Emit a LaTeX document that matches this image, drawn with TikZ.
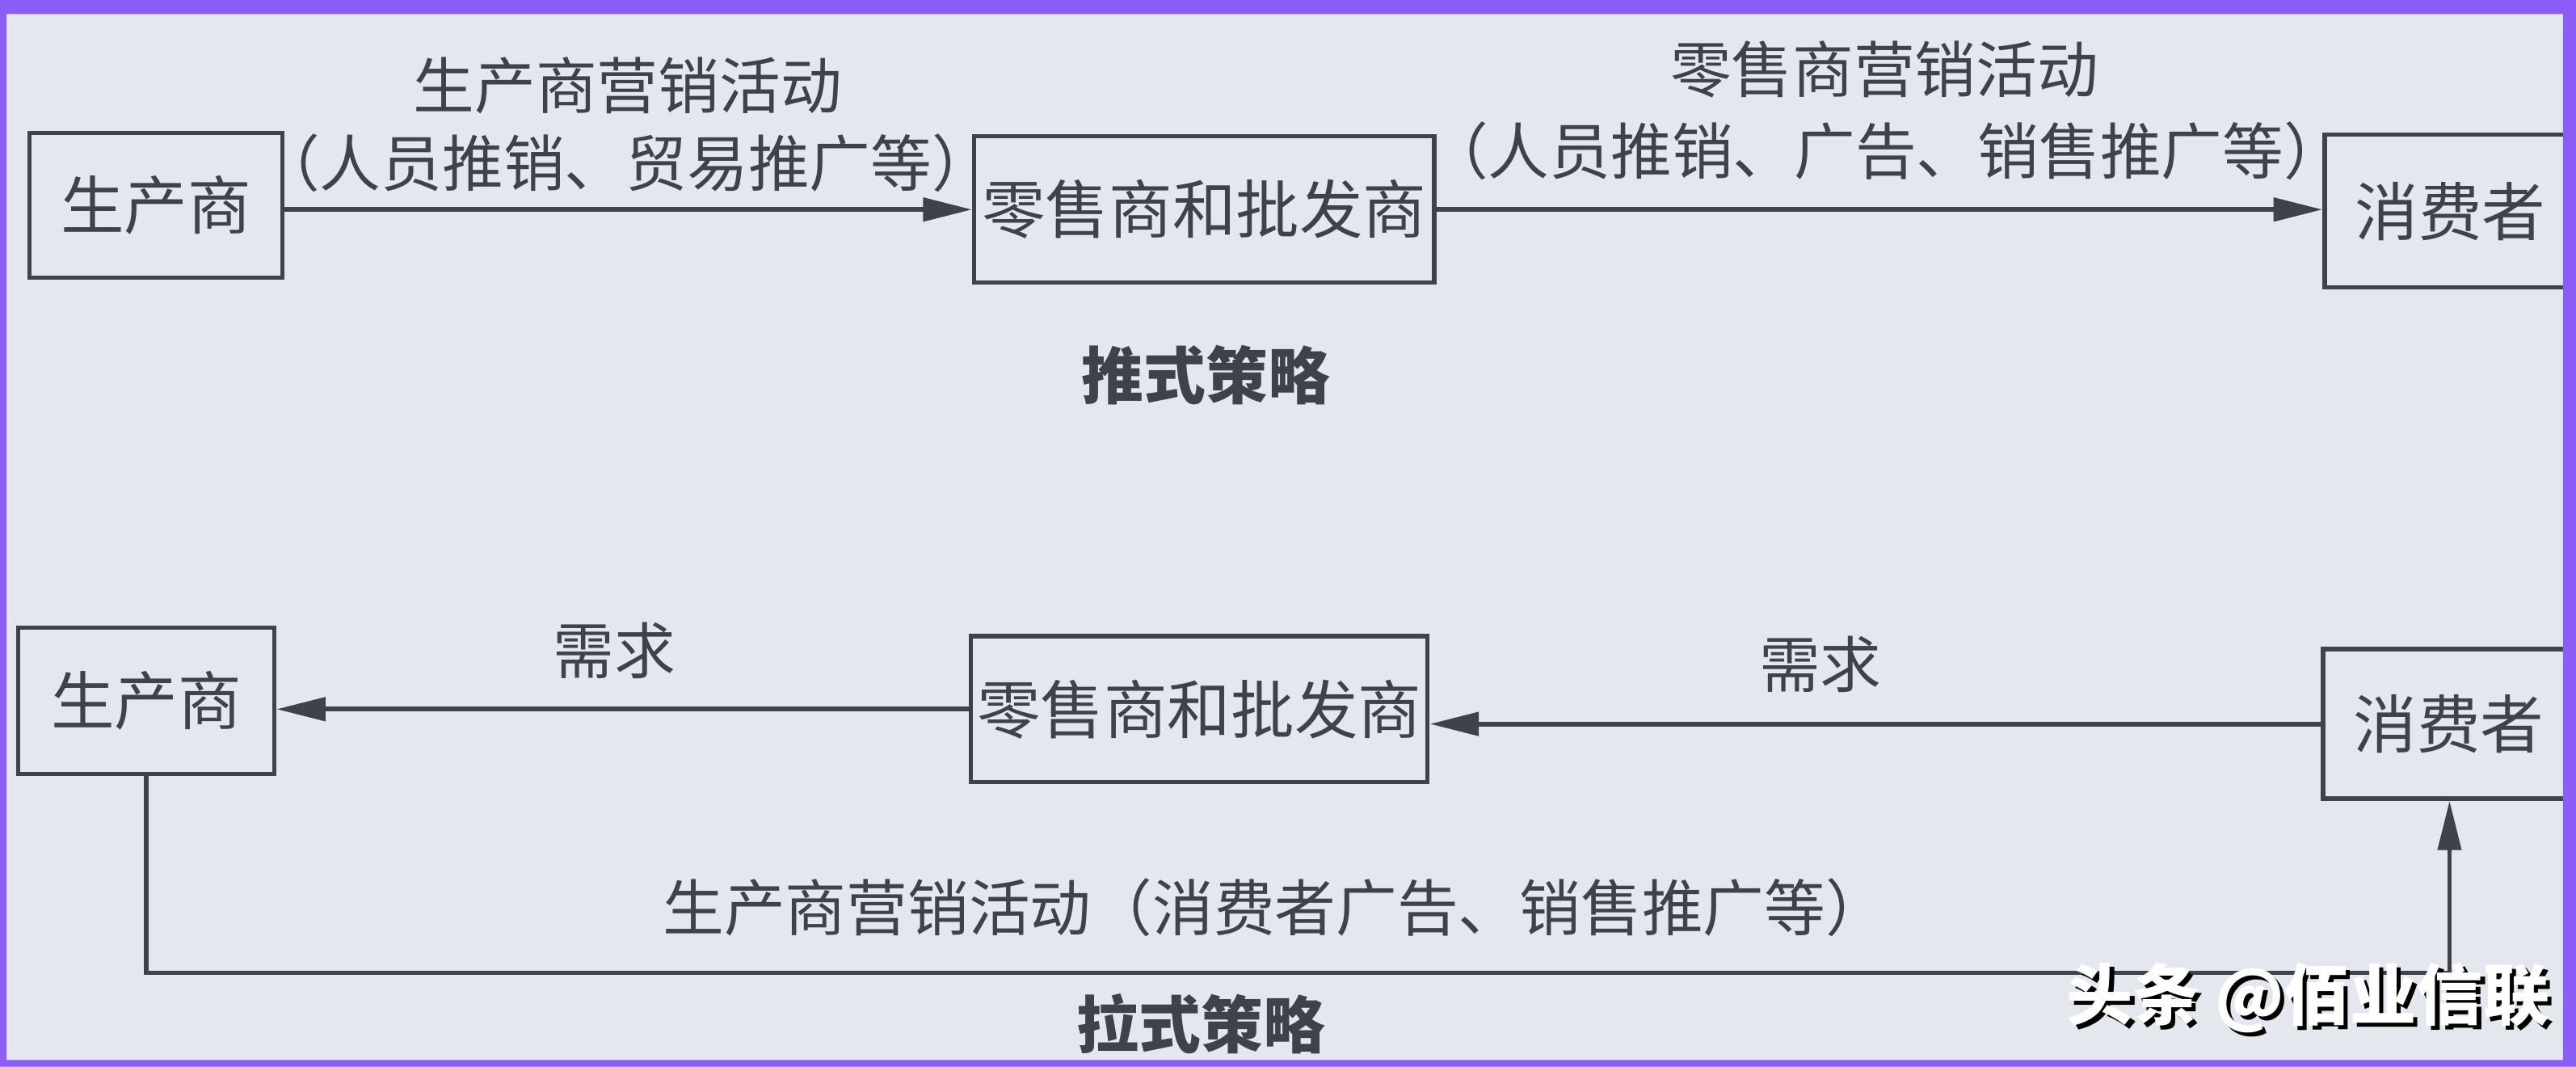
\documentclass[tikz,border=0pt]{standalone}
\usepackage{fontspec}
\setmainfont{Noto Sans CJK SC}
\usetikzlibrary{arrows.meta}
\definecolor{bg}{RGB}{228,231,237}
\definecolor{ink}{RGB}{62,67,74}
\definecolor{framecol}{RGB}{139,92,246}
\begin{document}
\begin{tikzpicture}[x=0.02cm,y=-0.02cm,
  box/.style={draw=ink,line width=1.5pt,text=ink,inner sep=0pt,font=\fontsize{22}{26}\selectfont},
  lbl/.style={text=ink,inner sep=0pt,font=\fontsize{21.2}{25}\selectfont},
  title/.style={text=ink,inner sep=0pt,font=\fontsize{21.5}{25}\selectfont\bfseries},
  conn/.style={draw=ink,line width=1.7pt,-{Triangle[length=17pt,width=8pt]}},
  pull/.style={draw=ink,line width=1.5pt,-{Triangle[length=17pt,width=8pt]}}]
\fill[bg] (0,0) rectangle (1568,649);
\useasboundingbox (0,0) rectangle (1568,649);

% push strategy
\node[box,minimum width=3.08cm,minimum height=1.76cm] (p1) at (95,125) {生产商};
\node[box,minimum width=5.6cm,minimum height=1.78cm] (r1) at (733,127.5) {零售商和批发商};
\node[box,minimum width=3.5cm,minimum height=1.86cm] (c1) at (1502.5,128.5) {\hspace*{-0.44cm}消费者};
\draw[conn] (p1.east |- r1.west) -- (r1.west);
\draw[conn] (r1.east) -- (c1.west |- r1.east);
\node[lbl] (l1a) at (382,52) {生产商营销活动};
\node[lbl] (l1b) at (381,99) {（人员推销、贸易推广等）};
\node[lbl] (l2a) at (1147,42) {零售商营销活动};
\node[lbl] (l2b) at (1148,92) {（人员推销、广告、销售推广等）};
\node[title] (t1) at (734,228) {推式策略};

% pull strategy
\node[box,minimum width=3.12cm,minimum height=1.78cm] (p2) at (89,426.5) {生产商};
\node[box,minimum width=5.56cm,minimum height=1.78cm] (r2) at (730,431.5) {零售商和批发商};
\node[box,minimum width=3.5cm,minimum height=1.82cm] (c2) at (1501.5,440.5) {\hspace*{-0.44cm}消费者};
\coordinate (q2) at (1491,592);
\draw[conn] (r2.west) -- (p2.east |- r2.west);
\draw[conn] (c2.west) -- (r2.east |- c2.west);
\node[lbl] (n1) at (374,396) {需求};
\node[lbl] (n2) at (1108,404) {需求};
\draw[pull] (p2.south) |- (q2) -- (q2 |- c2.south);
\node[lbl] (l3) at (776,552) {生产商营销活动（消费者广告、销售推广等）};
\node[title] (t2) at (731,623) {拉式策略};

% watermark
\node[inner sep=0pt,text=black,font=\fontsize{23}{27}\selectfont\bfseries] (wms) at (1407.5,609.5) {头条 @佰业信联};
\node[inner sep=0pt,text=white,font=\fontsize{23}{27}\selectfont\bfseries] (wm) at (1405,607) {头条 @佰业信联};

% photo frame
\fill[framecol,even odd rule] (0,0) rectangle (1568,649) (4,8.5) rectangle (1560,645);
\end{tikzpicture}
\end{document}
